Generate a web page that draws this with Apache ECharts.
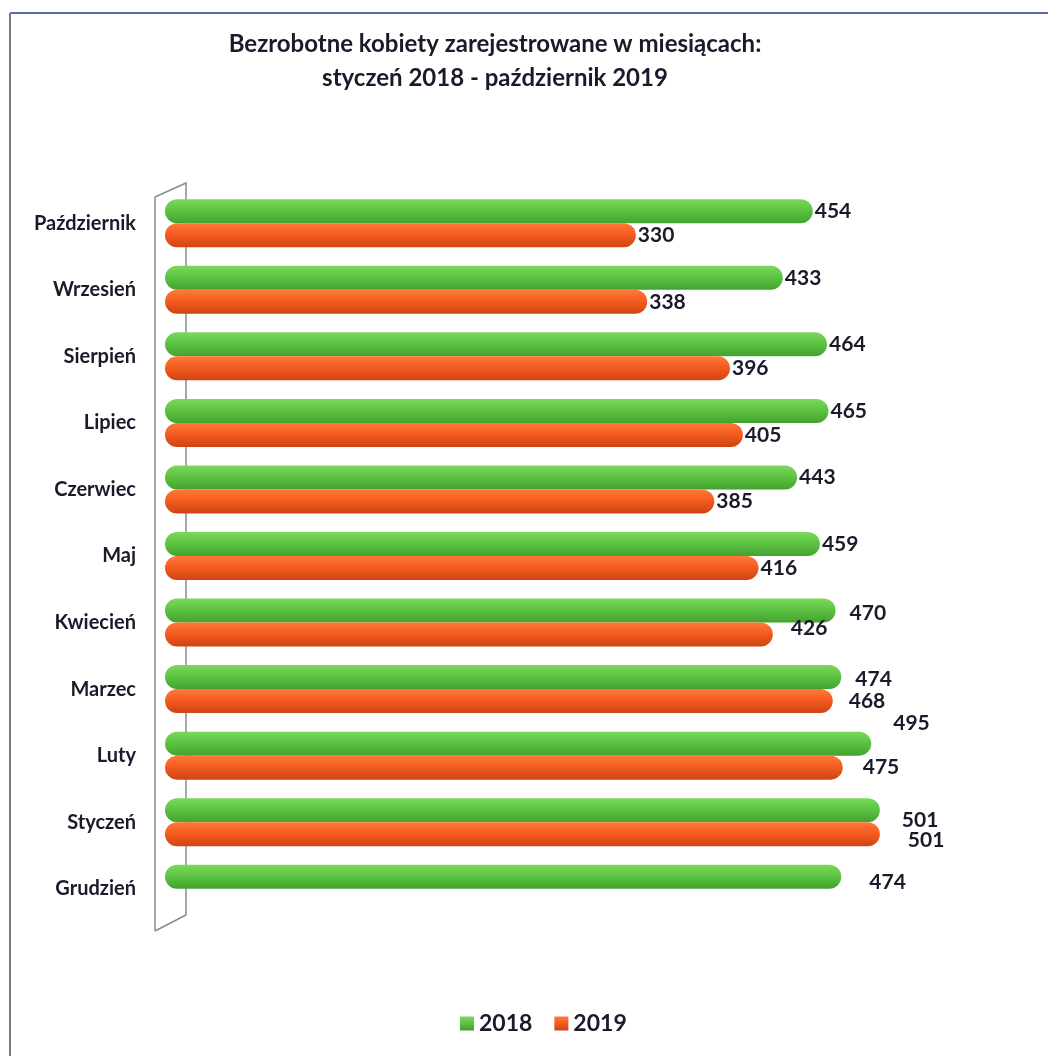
<!DOCTYPE html>
<html><head><meta charset="utf-8">
<script src="https://cdn.jsdelivr.net/npm/echarts@6/dist/echarts.min.js"></script>
<style>html,body{margin:0;padding:0;background:#fff}#c{width:1048px;height:1056px}</style>
</head><body><div id="c"></div>
<script>
var categories = ['Październik','Wrzesień','Sierpień','Lipiec','Czerwiec','Maj','Kwiecień','Marzec','Luty','Styczeń','Grudzień'];
var values2018 = [454,433,464,465,443,459,470,474,495,501,474];
var values2019 = [330,338,396,405,385,416,426,468,475,501,null];
var seriesNames = ['2018','2019'];
// label offsets [dx, dy] as seen in the reference
var off2018 = [[0,0],[0,0],[0,0],[0,0],[0,0],[0,0],[12,3],[12,2],[20,-20],[20,10],[26,6]];
var off2019 = [[0,0],[0,0],[0,0],[0,0],[0,0],[0,0],[16,-6],[14,0],[18,0],[26,6],[0,0]];

var chart = echarts.init(document.getElementById('c'));
function grad(top, mid, bot){
  return new echarts.graphic.LinearGradient(0,0,0,1,[
    {offset:0,color:top},{offset:0.45,color:mid},{offset:1,color:bot}]);
}
var lblStyle = {show:true, position:'right', distance:2, color:'#1a1a2a', fontSize:21, fontWeight:'bold', fontFamily:'Lato'};
function mk(vals, offs){
  return vals.map(function(v,i){
    return {value:v, label:{offset:offs[i]}};
  });
}
chart.setOption({
  animation:false,
  backgroundColor:'#fff',
  title:{text:'Bezrobotne kobiety zarejestrowane w miesiącach:\nstyczeń 2018 - październik 2019',
    left:490, textAlign:'center', top:22,
    textStyle:{fontFamily:'Lato', fontWeight:'bold', fontSize:24, lineHeight:34, color:'#1a1a2a'}},
  legend:{bottom:16, left:455, itemWidth:14, itemHeight:14, itemGap:22,
    textStyle:{fontFamily:'Lato', fontWeight:'bold', fontSize:23, color:'#1a1a2a'},
    data:[{name:'2018',icon:'rect'},{name:'2019',icon:'rect'}]},
  grid:{left:165, top:190, height:732, width:799},
  xAxis:{type:'value', min:0, max:560, show:false},
  yAxis:{type:'category', data:categories, inverse:true,
    axisLine:{show:false}, axisTick:{show:false}, splitLine:{show:false},
    axisLabel:{margin:29, fontFamily:'Lato', fontWeight:'bold', fontSize:20, color:'#1a1a2a'}},
  graphic:[
    {type:'line', shape:{x1:10,y1:13,x2:1048,y2:13}, style:{stroke:'#5a6ab0', lineWidth:2}, z:10},
    {type:'line', shape:{x1:10,y1:13,x2:10,y2:1056}, style:{stroke:'#707a80', lineWidth:2}, z:10},
    {type:'polyline', shape:{points:[[155,931],[155,197],[186,183],[186,915],[155,931]]},
      style:{stroke:'#7f9090', lineWidth:1.5, fill:null}, z:0}
  ],
  series:[
    {name:'2018', type:'bar', data:mk(values2018, off2018), barWidth:24, barGap:'0%', barCategoryGap:'27%',
      itemStyle:{color:grad('#7cd85a','#5ec443','#43a22f'), borderRadius:12},
      label:lblStyle, z:3},
    {name:'2019', type:'bar', data:mk(values2019, off2019), barWidth:24, barGap:'0%',
      itemStyle:{color:grad('#ff7a3a','#f55c20','#cf4412'), borderRadius:12},
      label:lblStyle, z:3}
  ],
  color:['#5ec443','#f55c20']
});
</script></body></html>
